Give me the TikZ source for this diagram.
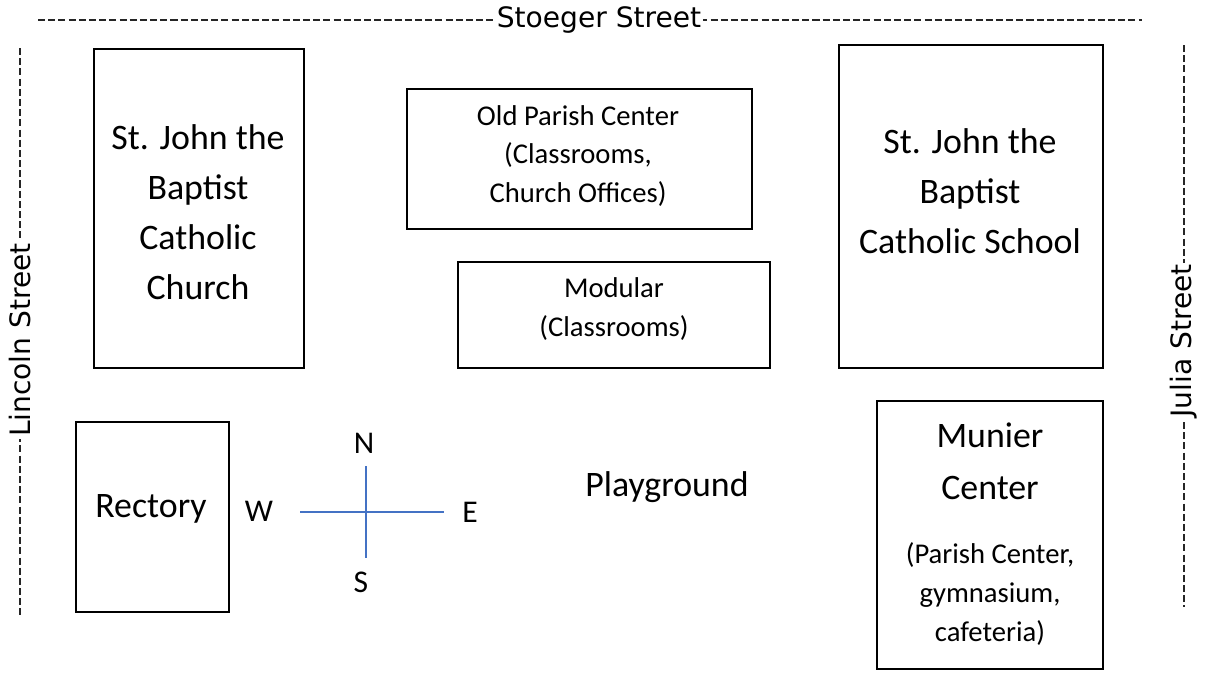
\documentclass[tikz,border=0pt]{standalone}
\usepackage{fontspec}
\setmainfont{Carlito}
\newfontfamily\streetfont{DejaVu Sans}
\usetikzlibrary{fit,positioning,calc}
\definecolor{compassblue}{RGB}{68,114,196}

\begin{document}
\begin{tikzpicture}[x=0.02cm, y=-0.02cm,
		bldg/.style={draw, line width=0.8pt, inner sep=0pt},
		street/.style={draw=black!85, line width=0.6pt, dash pattern=on 4pt off 1.8pt},
		streetname/.style={fill=white, inner sep=1pt, font=\streetfont\fontsize{16}{18}\selectfont},
		big/.style={align=center, font=\fontsize{20.4}{28.4}\selectfont},
		small/.style={align=center, font=\fontsize{16.3}{22.1}\selectfont},
		compass/.style={draw=compassblue, line width=0.7pt},
		dir/.style={font=\fontsize{18}{20}\selectfont}]
		\useasboundingbox (0,0) rectangle (1209,677);
		% streets
		\coordinate (stoegerW) at (38,20);
		\coordinate (stoegerE) at (1142,20);
		\coordinate (lincolnN) at (20,48);
		\coordinate (lincolnS) at (20,615);
		\coordinate (juliaN) at (1184,45);
		\coordinate (juliaS) at (1184,607);
		\draw[street] (stoegerW) -- (stoegerE);
		\draw[street] (lincolnN) -- (lincolnS);
		\draw[street] (juliaN) -- (juliaS);
		\node[streetname] (stoeger) at (599,20) {Stoeger Street};
		\node[streetname, rotate=90] (lincoln) at (20,340) {Lincoln Street};
		\node[streetname, rotate=90] (julia) at (1184,341) {Julia Street};
		% buildings
		\node[bldg, fit={(94,49) (304,368)}] (church) {};
		\node[bldg, fit={(407,89) (752,229)}] (oldpc) {};
		\node[bldg, fit={(458,262) (770,368)}] (modular) {};
		\node[bldg, fit={(839,45) (1103,368)}] (school) {};
		\node[bldg, fit={(76,422) (229,612)}] (rectory) {};
		\node[bldg, fit={(877,401) (1103,669)}] (munier) {};
		\node[big] (churchtxt) at (198,212) {St. John the\\Baptist\\Catholic\\Church};
		\node[small] (oldpctxt) at (578,156) {Old Parish Center\\(Classrooms,\\Church Offices)};
		\node[small] (modulartxt) at (614,309) {Modular\\(Classrooms)};
		\node[big] (schooltxt) at (970,191) {St. John the\\Baptist\\Catholic School};
		\node[big] (rectorytxt) at (151,509) {Rectory};
		\node[big, font=\fontsize{20.4}{29.5}\selectfont] (muniertxt) at (990,461) {Munier\\Center};
		\node[small] (munierinfo) at (990,594) {(Parish Center,\\gymnasium,\\cafeteria)};
		\node[big] (playground) at (667,487) {Playground};
		% compass
		\node[dir] (north) at (364,443) {N};
		\node[dir] (west) at (259,511) {W};
		\node[dir] (east) at (470,512) {E};
		\node[dir] (south) at (361,582) {S};
		\coordinate (cw) at (300,512);
		\coordinate (ce) at (444,512);
		\coordinate (cn) at (366,466);
		\coordinate (cs) at (366,558);
		\draw[compass] (cw) -- (ce);
		\draw[compass] (cn) -- (cs);
	\end{tikzpicture}
\end{document}
